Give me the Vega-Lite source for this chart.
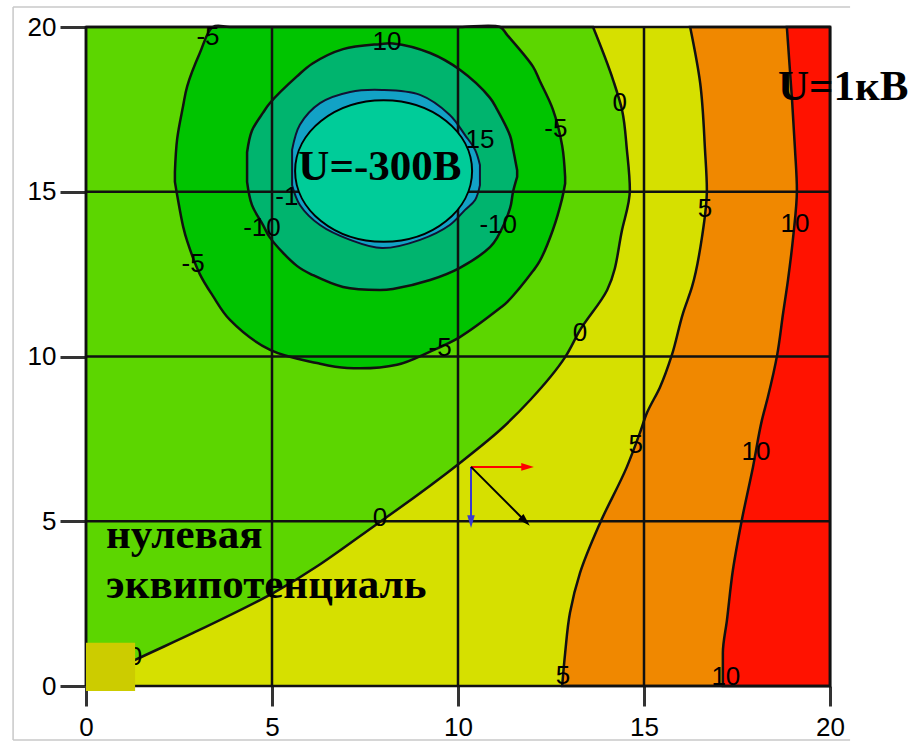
{
  "$schema": "https://vega.github.io/schema/vega-lite/v6.json",
  "width": 744,
  "height": 659,
  "autosize": "none",
  "padding": {"left": 86, "top": 27, "right": 79, "bottom": 56},
  "background": "white",
  "config": {
    "view": {"stroke": null, "fill": "#d6e000"},
    "axis": {"labelFont": "Liberation Sans", "labelFontSize": 26, "labelColor": "#000", "tickColor": "#333", "tickWidth": 3, "domain": false, "grid": false, "tickCount": 4, "labelFlush": false},
    "axisX": {"tickSize": 20, "labelPadding": 8},
    "axisY": {"tickSize": 26, "labelPadding": 4}
  },
  "datasets": {
    "zero": [
      {"y": 0.06, "x": 0}, {"y": 0.79, "x": 1.32}, {"y": 1.61, "x": 2.88}, {"y": 2.82, "x": 5.03},
      {"y": 4.98, "x": 7.9}, {"y": 6.77, "x": 10.05}, {"y": 7.77, "x": 11.13}, {"y": 8.68, "x": 11.94},
      {"y": 9.98, "x": 12.88}, {"y": 10.8, "x": 13.28}, {"y": 12.02, "x": 14.01}, {"y": 13.84, "x": 14.41},
      {"y": 15.05, "x": 14.62}, {"y": 16.27, "x": 14.54}, {"y": 17.48, "x": 14.41}, {"y": 18.39, "x": 14.17},
      {"y": 20, "x": 13.63}
    ],
    "c5": [
      {"y": 0, "x": 12.8}, {"y": 1.0, "x": 12.88}, {"y": 2.22, "x": 13.01}, {"y": 3.43, "x": 13.28},
      {"y": 4.95, "x": 13.82}, {"y": 6.65, "x": 14.54}, {"y": 7.68, "x": 14.89}, {"y": 8.29, "x": 15.08},
      {"y": 9.07, "x": 15.43}, {"y": 10.05, "x": 15.75}, {"y": 11.32, "x": 16.05}, {"y": 12.11, "x": 16.29},
      {"y": 13.63, "x": 16.56}, {"y": 15.05, "x": 16.69}, {"y": 16.27, "x": 16.64}, {"y": 18.3, "x": 16.51},
      {"y": 20, "x": 16.24}
    ],
    "c10": [
      {"y": 0, "x": 17.12}, {"y": 1.0, "x": 17.12}, {"y": 2.0, "x": 17.23}, {"y": 3.52, "x": 17.39},
      {"y": 5.04, "x": 17.63}, {"y": 6.65, "x": 17.93}, {"y": 8.07, "x": 18.17}, {"y": 8.77, "x": 18.33},
      {"y": 10.05, "x": 18.58}, {"y": 11.32, "x": 18.74}, {"y": 12.32, "x": 18.87}, {"y": 13.63, "x": 19.01},
      {"y": 15.05, "x": 19.11}, {"y": 16.27, "x": 19.06}, {"y": 17.78, "x": 18.98}, {"y": 20, "x": 18.84}
    ],
    "ring5": [
      {"x": 2.39, "lo": 15.3, "hi": 15.6}, {"x": 2.45, "lo": 14.9, "hi": 16.6}, {"x": 2.61, "lo": 13.95, "hi": 17.6},
      {"x": 2.72, "lo": 13.5, "hi": 18.2}, {"x": 3.06, "lo": 12.5, "hi": 19.21}, {"x": 3.41, "lo": 11.84, "hi": 20},
      {"x": 3.87, "lo": 11.11, "hi": 20}, {"x": 4.95, "lo": 10.2, "hi": 20}, {"x": 6.21, "lo": 9.8, "hi": 20},
      {"x": 7.02, "lo": 9.65, "hi": 20}, {"x": 8.36, "lo": 9.75, "hi": 20}, {"x": 9.25, "lo": 10.15, "hi": 20},
      {"x": 10.05, "lo": 10.59, "hi": 20}, {"x": 11.13, "lo": 11.47, "hi": 20}, {"x": 11.32, "lo": 11.65, "hi": 19.76},
      {"x": 12.02, "lo": 12.6, "hi": 18.79}, {"x": 12.2, "lo": 12.9, "hi": 18.36}, {"x": 12.55, "lo": 13.84, "hi": 17.5},
      {"x": 12.8, "lo": 14.8, "hi": 16.4}, {"x": 12.88, "lo": 15.25, "hi": 15.45}
    ],
    "ring10": [
      {"x": 4.33, "lo": 15.3, "hi": 16.2}, {"x": 4.46, "lo": 14.6, "hi": 16.85}, {"x": 4.76, "lo": 13.99, "hi": 17.4},
      {"x": 4.95, "lo": 13.6, "hi": 17.7}, {"x": 5.67, "lo": 12.75, "hi": 18.5}, {"x": 6.1, "lo": 12.47, "hi": 18.9},
      {"x": 6.91, "lo": 12.11, "hi": 19.33}, {"x": 7.9, "lo": 12.02, "hi": 19.48}, {"x": 8.25, "lo": 12.05, "hi": 19.5},
      {"x": 9.25, "lo": 12.32, "hi": 19.21}, {"x": 10.05, "lo": 12.69, "hi": 18.7}, {"x": 10.86, "lo": 13.32, "hi": 17.85},
      {"x": 11.05, "lo": 13.6, "hi": 17.5}, {"x": 11.4, "lo": 14.5, "hi": 16.7}, {"x": 11.48, "lo": 15.0, "hi": 16.3},
      {"x": 11.59, "lo": 15.45, "hi": 15.65}
    ],
    "ring15": [
      {"x": 5.54, "lo": 15.2, "hi": 16.27}, {"x": 5.75, "lo": 14.6, "hi": 17.03}, {"x": 6.29, "lo": 13.99, "hi": 17.69},
      {"x": 7.1, "lo": 13.54, "hi": 18.03}, {"x": 7.96, "lo": 13.29, "hi": 18.09}, {"x": 8.98, "lo": 13.54, "hi": 17.94},
      {"x": 9.78, "lo": 13.99, "hi": 17.33}, {"x": 10.19, "lo": 14.45, "hi": 16.72}, {"x": 10.46, "lo": 14.75, "hi": 16.27},
      {"x": 10.59, "lo": 15.2, "hi": 15.81}
    ],
    "labels": [
      {"t": "-5", "x": 3.28, "y": 19.7}, {"t": "10", "x": 8.09, "y": 19.54}, {"t": "-5", "x": 12.63, "y": 16.9},
      {"t": "15", "x": 10.59, "y": 16.57}, {"t": "-1", "x": 5.4, "y": 14.85}, {"t": "-10", "x": 4.73, "y": 13.9},
      {"t": "-10", "x": 11.08, "y": 13.99}, {"t": "-5", "x": 2.88, "y": 12.81}, {"t": "-5", "x": 9.52, "y": 10.26},
      {"t": "0", "x": 14.35, "y": 17.69}, {"t": "0", "x": 13.28, "y": 10.71}, {"t": "0", "x": 7.9, "y": 5.1},
      {"t": "0", "x": 1.32, "y": 0.88}, {"t": "5", "x": 16.64, "y": 14.48}, {"t": "10", "x": 19.06, "y": 14.02},
      {"t": "5", "x": 14.78, "y": 7.31}, {"t": "10", "x": 18.01, "y": 7.1}, {"t": "5", "x": 12.82, "y": 0.3},
      {"t": "10", "x": 17.2, "y": 0.27}
    ],
    "ticks": [{"v": 0}, {"v": 5}, {"v": 10}, {"v": 15}, {"v": 20}],
    "frame": [
      {"x": -1.96, "x2": 20.54, "y": 20.61, "y2": 20.61},
      {"x": -1.96, "x2": -1.96, "y": 20.61, "y2": -1.64},
      {"x": -1.96, "x2": 20.54, "y": -1.64, "y2": -1.64}
    ],
    "electrode": [{"x": 8.0, "y": 15.63}],
    "marker": [{"x": 0, "x2": 1.32, "y": -0.15, "y2": 1.31}],
    "arrows": [
      {"dir": "Ex", "x": 10.35, "y": 6.65, "x2": 11.87, "y2": 6.65},
      {"dir": "Ey", "x": 10.35, "y": 6.65, "x2": 10.35, "y2": 4.99},
      {"dir": "E", "x": 10.35, "y": 6.65, "x2": 11.81, "y2": 5.0}
    ],
    "notes": [
      {"t": "нулевая", "x": 0.54, "y": 4.19},
      {"t": "эквипотенциаль", "x": 0.54, "y": 2.67},
      {"t": "U=1кВ", "x": 18.6, "y": 17.78}
    ],
    "notes2": [{"t": "U=-300В", "x": 7.9, "y": 15.36}]
  },
  "layer": [
    {
      "data": {"name": "frame"},
      "mark": {"type": "rule", "color": "#c8c8c8", "strokeWidth": 1.5, "clip": false},
      "encoding": {
        "x": {"field": "x", "type": "quantitative", "scale": {"domain": [0, 20], "nice": false, "zero": false}, "title": null},
        "x2": {"field": "x2"},
        "y": {"field": "y", "type": "quantitative", "scale": {"domain": [0, 20], "nice": false, "zero": false}, "title": null},
        "y2": {"field": "y2"}
      }
    },
    {
      "data": {"name": "zero"},
      "mark": {"type": "area", "orient": "horizontal", "color": "#5cd600", "stroke": "#111", "strokeWidth": 2.5, "interpolate": "monotone"},
      "encoding": {
        "x": {"field": "x", "type": "quantitative", "scale": {"domain": [0, 20], "nice": false, "zero": false}, "title": null},
        "y": {"field": "y", "type": "quantitative", "scale": {"domain": [0, 20], "nice": false, "zero": false}, "title": null}
      }
    },
    {
      "data": {"name": "ring5"},
      "mark": {"type": "area", "orient": "vertical", "color": "#00c400", "stroke": "#111", "strokeWidth": 2.5, "interpolate": "catmull-rom"},
      "encoding": {
        "x": {"field": "x", "type": "quantitative", "scale": {"domain": [0, 20], "nice": false, "zero": false}, "title": null},
        "y": {"field": "lo", "type": "quantitative", "scale": {"domain": [0, 20], "nice": false, "zero": false}, "title": null},
        "y2": {"field": "hi"}
      }
    },
    {
      "data": {"name": "ring10"},
      "mark": {"type": "area", "orient": "vertical", "color": "#00b46e", "stroke": "#111", "strokeWidth": 2.5, "interpolate": "catmull-rom"},
      "encoding": {
        "x": {"field": "x", "type": "quantitative", "scale": {"domain": [0, 20], "nice": false, "zero": false}, "title": null},
        "y": {"field": "lo", "type": "quantitative", "scale": {"domain": [0, 20], "nice": false, "zero": false}, "title": null},
        "y2": {"field": "hi"}
      }
    },
    {
      "data": {"name": "ring15"},
      "mark": {"type": "area", "orient": "vertical", "color": "#12a2c6", "stroke": "#113", "strokeWidth": 2, "interpolate": "catmull-rom"},
      "encoding": {
        "x": {"field": "x", "type": "quantitative", "scale": {"domain": [0, 20], "nice": false, "zero": false}, "title": null},
        "y": {"field": "lo", "type": "quantitative", "scale": {"domain": [0, 20], "nice": false, "zero": false}, "title": null},
        "y2": {"field": "hi"}
      }
    },
    {
      "data": {"name": "c5"},
      "mark": {"type": "area", "orient": "horizontal", "color": "#f08800", "stroke": "#111", "strokeWidth": 2.5, "interpolate": "monotone"},
      "encoding": {
        "x": {"field": "x", "type": "quantitative", "scale": {"domain": [0, 20], "nice": false, "zero": false}, "title": null},
        "x2": {"datum": 20},
        "y": {"field": "y", "type": "quantitative", "scale": {"domain": [0, 20], "nice": false, "zero": false}, "title": null}
      }
    },
    {
      "data": {"name": "c10"},
      "mark": {"type": "area", "orient": "horizontal", "color": "#ff1200", "stroke": "#111", "strokeWidth": 2.5, "interpolate": "monotone"},
      "encoding": {
        "x": {"field": "x", "type": "quantitative", "scale": {"domain": [0, 20], "nice": false, "zero": false}, "title": null},
        "x2": {"datum": 20},
        "y": {"field": "y", "type": "quantitative", "scale": {"domain": [0, 20], "nice": false, "zero": false}, "title": null}
      }
    },
    {
      "data": {"name": "ticks"},
      "mark": {"type": "rule", "color": "#111", "strokeWidth": 2.5},
      "encoding": {
        "x": {"field": "v", "type": "quantitative", "scale": {"domain": [0, 20], "nice": false, "zero": false}, "title": null}
      }
    },
    {
      "data": {"name": "ticks"},
      "mark": {"type": "rule", "color": "#111", "strokeWidth": 2.5},
      "encoding": {
        "y": {"field": "v", "type": "quantitative", "scale": {"domain": [0, 20], "nice": false, "zero": false}, "title": null}
      }
    },
    {
      "data": {"name": "labels"},
      "mark": {"type": "text", "font": "Liberation Sans", "fontSize": 26, "color": "#000", "align": "center", "baseline": "middle"},
      "encoding": {
        "x": {"field": "x", "type": "quantitative", "scale": {"domain": [0, 20], "nice": false, "zero": false}, "title": null},
        "y": {"field": "y", "type": "quantitative", "scale": {"domain": [0, 20], "nice": false, "zero": false}, "title": null},
        "text": {"field": "t"}
      }
    },
    {
      "data": {"name": "electrode"},
      "mark": {"type": "point", "shape": "M-1,0A1,0.8,0,1,1,1,0A1,0.8,0,1,1,-1,0Z", "size": 31329, "filled": true, "fill": "#00cc99", "stroke": "#000", "strokeWidth": 2, "opacity": 1},
      "encoding": {
        "x": {"field": "x", "type": "quantitative", "scale": {"domain": [0, 20], "nice": false, "zero": false}, "title": null},
        "y": {"field": "y", "type": "quantitative", "scale": {"domain": [0, 20], "nice": false, "zero": false}, "title": null}
      }
    },
    {
      "data": {"name": "marker"},
      "mark": {"type": "rect", "color": "#cccc00", "clip": false},
      "encoding": {
        "x": {"field": "x", "type": "quantitative", "scale": {"domain": [0, 20], "nice": false, "zero": false}, "title": null},
        "x2": {"field": "x2"},
        "y": {"field": "y", "type": "quantitative", "scale": {"domain": [0, 20], "nice": false, "zero": false}, "title": null},
        "y2": {"field": "y2"}
      }
    },
    {
      "data": {"name": "arrows"},
      "mark": {"type": "rule", "strokeWidth": 2},
      "encoding": {
        "x": {"field": "x", "type": "quantitative", "scale": {"domain": [0, 20], "nice": false, "zero": false}, "title": null},
        "x2": {"field": "x2"},
        "y": {"field": "y", "type": "quantitative", "scale": {"domain": [0, 20], "nice": false, "zero": false}, "title": null},
        "y2": {"field": "y2"},
        "color": {"field": "dir", "type": "nominal", "scale": {"domain": ["Ex", "Ey", "E"], "range": ["#ff0000", "#3a3ad0", "#000000"]}, "legend": null}
      }
    },
    {
      "data": {"name": "arrows"},
      "mark": {"type": "point", "filled": true, "opacity": 1, "size": 160},
      "encoding": {
        "x": {"field": "x2", "type": "quantitative", "scale": {"domain": [0, 20], "nice": false, "zero": false}, "title": null},
        "y": {"field": "y2", "type": "quantitative", "scale": {"domain": [0, 20], "nice": false, "zero": false}, "title": null},
        "color": {"field": "dir", "type": "nominal", "scale": {"domain": ["Ex", "Ey", "E"], "range": ["#ff0000", "#3a3ad0", "#000000"]}, "legend": null},
        "shape": {"field": "dir", "type": "nominal", "scale": {"domain": ["Ex", "Ey", "E"], "range": ["M1,0L-1,-0.6L-1,0.6Z", "M0,1L-0.6,-1L0.6,-1Z", "M0.71,0.71L-1.13,-0.29L-0.29,-1.13Z"]}, "legend": null}
      }
    },
    {
      "data": {"name": "notes"},
      "mark": {"type": "text", "font": "Liberation Serif", "fontWeight": "bold", "fontSize": 43, "color": "#000", "align": "left", "baseline": "alphabetic"},
      "encoding": {
        "x": {"field": "x", "type": "quantitative", "scale": {"domain": [0, 20], "nice": false, "zero": false}, "title": null},
        "y": {"field": "y", "type": "quantitative", "scale": {"domain": [0, 20], "nice": false, "zero": false}, "title": null},
        "text": {"field": "t"}
      }
    },
    {
      "data": {"name": "notes2"},
      "mark": {"type": "text", "font": "Liberation Serif", "fontWeight": "bold", "fontSize": 43, "color": "#000", "align": "center", "baseline": "alphabetic"},
      "encoding": {
        "x": {"field": "x", "type": "quantitative", "scale": {"domain": [0, 20], "nice": false, "zero": false}, "title": null},
        "y": {"field": "y", "type": "quantitative", "scale": {"domain": [0, 20], "nice": false, "zero": false}, "title": null},
        "text": {"field": "t"}
      }
    }
  ]
}
